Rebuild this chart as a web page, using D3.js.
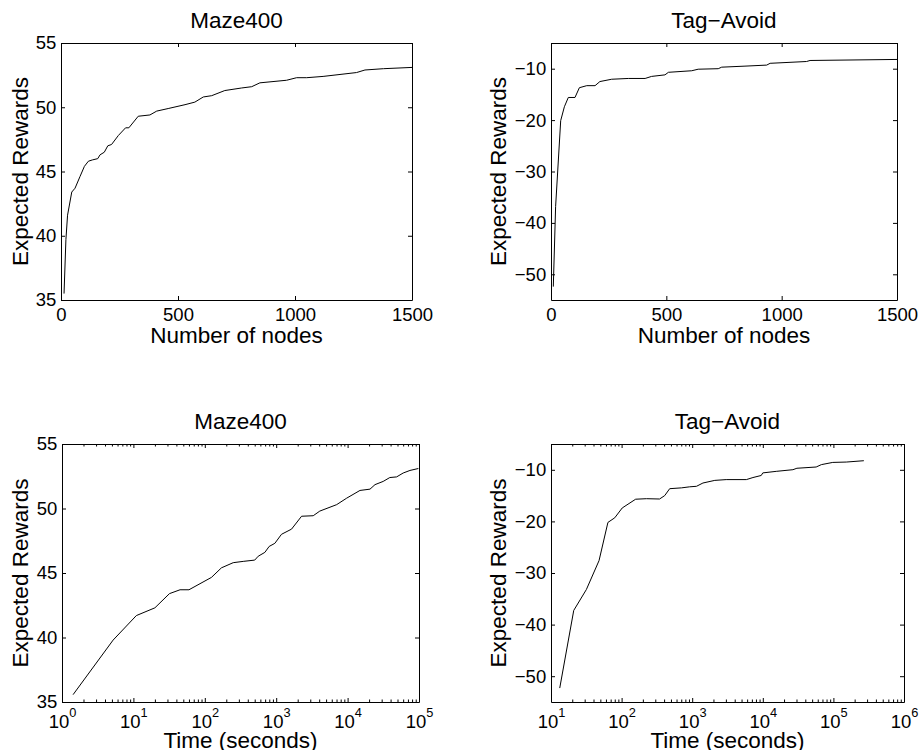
<!DOCTYPE html>
<html>
<head>
<meta charset="utf-8">
<script src="https://cdn.jsdelivr.net/npm/d3@7"></script>
<style>
    body { margin: 0; background: #fff; }
    svg { display: block; font-family: "Liberation Sans", Arial, Helvetica, sans-serif; }
    .axis path, .axis line { stroke: #000; stroke-width: 1; }
    .axis text { fill: #000; font-size: 18.5px; font-family: "Liberation Sans", Arial, Helvetica, sans-serif; }
    .curve { fill: none; stroke: #000; stroke-width: 1; }
    .title, .label { font-size: 22.5px; fill: #000; }
</style>
</head>
<body>
<svg id="chart" width="920" height="750"></svg>
<script>
// Titles and axis labels
const titles = ['Maze400', 'Tag\u2212Avoid', 'Maze400', 'Tag\u2212Avoid'];
const xLabels = ['Number of nodes', 'Number of nodes', 'Time (seconds)', 'Time (seconds)'];
const yLabel = 'Expected Rewards';

// Tick values
const nodeTicks = [0, 500, 1000, 1500];
const mazeTicks = [35, 40, 45, 50, 55];
const tagTicks = [-50, -40, -30, -20, -10];
const mazeTimeTicks = [1, 10, 100, 1000, 10000, 100000];
const tagTimeTicks = [10, 100, 1000, 10000, 100000, 1000000];

// Maze400: reward vs number of nodes
const mazeNodes = [13, 21, 28, 46, 60, 81, 100, 117, 134, 157, 167, 185, 200, 216, 245, 276, 290, 330, 380,
    409, 458, 530, 572, 608, 644, 700, 772, 815, 850, 964, 1007, 1050, 1120, 1263, 1299, 1378, 1500];
const mazeNodesReward = [35.5, 39.7, 41.6, 43.4, 43.7, 44.6, 45.4, 45.8, 45.9, 46.0, 46.3, 46.5, 47.0, 47.1,
    47.8, 48.4, 48.4, 49.3, 49.4, 49.7, 49.9, 50.2, 50.4, 50.8, 50.9, 51.3, 51.5, 51.6, 51.9, 52.1, 52.3,
    52.3, 52.4, 52.7, 52.9, 53.0, 53.1];

// Tag-Avoid: reward vs number of nodes
const tagNodes = [10, 20, 42, 58, 75, 104, 123, 155, 191, 212, 263, 335, 408, 436, 494, 509, 610, 638, 725,
    740, 841, 935, 950, 1108, 1123, 1500];
const tagNodesReward = [-52.4, -36.8, -20.1, -17.4, -15.6, -15.6, -13.7, -13.3, -13.3, -12.5, -12.05, -11.9,
    -11.9, -11.5, -11.2, -10.7, -10.4, -10.1, -10.0, -9.7, -9.5, -9.3, -8.95, -8.6, -8.4, -8.2];

// Maze400: reward vs time (seconds)
const mazeTime = [1.43, 5.2, 11, 20, 32, 45, 60, 124, 171, 250, 345, 500, 560, 694, 797, 957, 1186, 1640,
    2266, 3300, 4080, 7030, 9700, 14900, 20600, 24200, 31500, 39000, 48600, 60000, 74700, 98000];
const mazeTimeReward = [35.57, 39.8, 41.7, 42.3, 43.4, 43.7, 43.7, 44.66, 45.4, 45.8, 45.9, 46.0, 46.3, 46.6,
    47.06, 47.3, 48.0, 48.4, 49.4, 49.44, 49.8, 50.3, 50.8, 51.4, 51.5, 51.85, 52.1, 52.4, 52.45, 52.75,
    52.95, 53.1];

// Tag-Avoid: reward vs time (seconds)
const tagTime = [13.3, 21, 31.7, 47.9, 64, 80, 102, 158, 225, 345, 408, 480, 705, 920, 1150, 1420, 2090,
    3030, 5850, 7250, 9500, 10000, 15500, 26700, 30400, 57000, 67500, 98000, 152000, 270000];
const tagTimeReward = [-52.3, -37.25, -33.2, -27.6, -20.2, -19.3, -17.4, -15.7, -15.6, -15.66, -15.0, -13.66,
    -13.5, -13.3, -13.2, -12.56, -12.05, -11.9, -11.9, -11.5, -11.1, -10.6, -10.3, -9.98, -9.7, -9.46,
    -9.0, -8.57, -8.5, -8.24];

// Panel layout (plot box in pixels)
const panels = [
    { title: titles[0], xLabel: xLabels[0], xs: mazeNodes, ys: mazeNodesReward, log: false,
      xDomain: [0, 1500], xTicks: nodeTicks, yDomain: [35, 55], yTicks: mazeTicks,
      left: 61, right: 412, top: 43, bottom: 300, yLabelX: -33, xLabelY: 43 },
    { title: titles[1], xLabel: xLabels[1], xs: tagNodes, ys: tagNodesReward, log: false,
      xDomain: [0, 1500], xTicks: nodeTicks, yDomain: [-55, -5], yTicks: tagTicks,
      left: 551, right: 897, top: 43, bottom: 300, yLabelX: -45.5, xLabelY: 43 },
    { title: titles[2], xLabel: xLabels[2], xs: mazeTime, ys: mazeTimeReward, log: true,
      xDomain: [1, 1e5], xTicks: mazeTimeTicks, yDomain: [35, 55], yTicks: mazeTicks,
      left: 62, right: 419, top: 444, bottom: 702, yLabelX: -34, xLabelY: 45.5 },
    { title: titles[3], xLabel: xLabels[3], xs: tagTime, ys: tagTimeReward, log: true,
      xDomain: [10, 1e6], xTicks: tagTimeTicks, yDomain: [-55, -5], yTicks: tagTicks,
      left: 551, right: 904, top: 444, bottom: 702, yLabelX: -45, xLabelY: 45.5 }
];

const svg = d3.select('#chart');

panels.forEach(p => {
    const w = p.right - p.left;
    const h = p.bottom - p.top;
    const g = svg.append('g').attr('transform', `translate(${p.left},${p.top})`);

    const x = (p.log ? d3.scaleLog() : d3.scaleLinear()).domain(p.xDomain).range([0, w]);
    const y = d3.scaleLinear().domain(p.yDomain).range([h, 0]);

    // Minor log ticks (2..9 per decade), top and bottom
    if (p.log) {
        const minor = [];
        p.xTicks.slice(0, -1).forEach(t => {
            for (let k = 2; k <= 9; k++) minor.push(t * k);
        });
        g.append('g').attr('class', 'axis')
            .attr('transform', `translate(0,${h})`)
            .call(d3.axisBottom(x).tickValues(minor).tickSize(-2.5).tickFormat(''))
            .select('.domain').remove();
        g.append('g').attr('class', 'axis')
            .call(d3.axisTop(x).tickValues(minor).tickSize(-2.5).tickFormat(''))
            .select('.domain').remove();
    }

    // Bottom axis with labels
    const xAxis = d3.axisBottom(x).tickValues(p.xTicks).tickSizeInner(-4).tickSizeOuter(0)
        .tickPadding(p.log ? 12.9 : 8.3);
    if (!p.log) xAxis.tickFormat(d3.format('d'));
    const xg = g.append('g').attr('class', 'axis')
        .attr('transform', `translate(0,${h})`)
        .call(xAxis);

    if (p.log) {
        xg.selectAll('.tick text').each(function(d) {
            const t = d3.select(this);
            t.text(null);
            t.append('tspan').text('10');
            t.append('tspan')
                .attr('dy', -11.3)
                .attr('font-size', 12.8)
                .text(Math.round(Math.log10(d)));
        });
    }

    // Top and right axes (box with inward ticks)
    g.append('g').attr('class', 'axis')
        .call(d3.axisTop(x).tickValues(p.xTicks).tickSizeInner(-4).tickSizeOuter(0).tickFormat(''));
    g.append('g').attr('class', 'axis')
        .attr('transform', `translate(${w},0)`)
        .call(d3.axisRight(y).tickValues(p.yTicks).tickSizeInner(-4).tickSizeOuter(0).tickFormat(''));

    // Left axis with labels
    g.append('g').attr('class', 'axis')
        .call(d3.axisLeft(y).tickValues(p.yTicks).tickSizeInner(-4).tickSizeOuter(0).tickPadding(4.8));

    // Curve
    const pts = p.xs.map((v, i) => [v, p.ys[i]]);
    g.append('path')
        .datum(pts)
        .attr('class', 'curve')
        .attr('d', d3.line().x(d => x(d[0])).y(d => y(d[1])));

    // Title and labels
    g.append('text').attr('class', 'title')
        .attr('x', w / 2).attr('y', -15.5)
        .attr('text-anchor', 'middle')
        .text(p.title);

    g.append('text').attr('class', 'label')
        .attr('x', w / 2).attr('y', h + p.xLabelY)
        .attr('text-anchor', 'middle')
        .text(p.xLabel);

    g.append('text').attr('class', 'label')
        .attr('transform', `translate(${p.yLabelX},${h / 2}) rotate(-90)`)
        .attr('text-anchor', 'middle')
        .text(yLabel);
});
</script>
</body>
</html>
